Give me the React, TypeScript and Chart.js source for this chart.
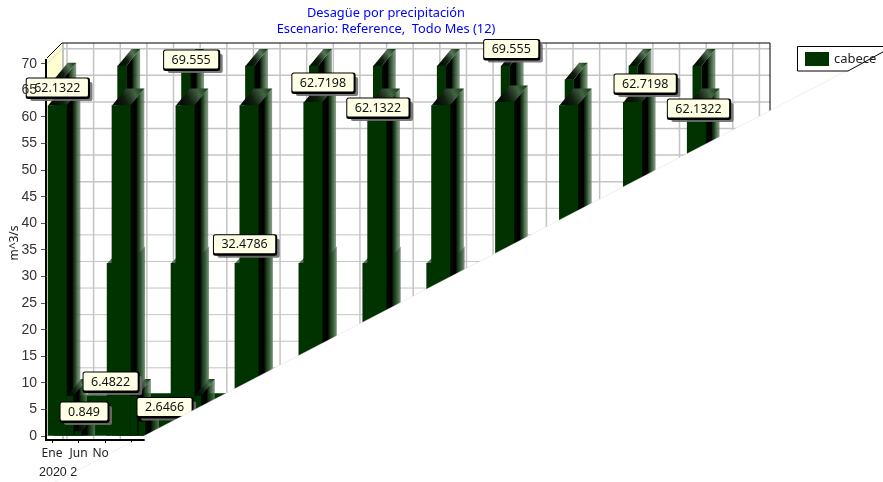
import React, { useEffect, useRef } from "react";
import { Chart, registerables } from "chart.js";

Chart.register(...registerables);

const titleLines = ["Desagüe por precipitación", "Escenario: Reference,  Todo Mes (12)"];
const seriesName = "cabece";
const yAxisTitle = "m^3/s";
const yearLabel = "2020 2";
const monthTickLabels: Record<number, string> = { 0: "Ene", 5: "Jun", 10: "No   " };

// yearly groups of bars, one value per year (2020 ... 2030); null = nothing to see
const frontValues = [null, 32.4786, 32.4786, 32.4786, 32.4786, 32.4786, 32.4786, 32.4786, 32.4786, 32.4786, 32.4786];
const middleValues = [62.1322, 62.1322, 62.1322, 62.1322, 62.7198, 62.1322, 62.1322, 62.7198, 62.1322, 62.7198, 62.1322];
const backValues = [67, 69.555, 69.555, 69.555, 69.555, 69.555, 69.555, 69.555, 67, 69.555, 69.555];
// low season months
const lowMonths = [8.07, 20.07, 32.07];
const lowValues = [7.6, 8, 8];
const shoulderMonths = [3.38, 15.38, 27.38];
const shoulderValues = [7.5, 7.5, 7.5];
const dryMonths = [4.9, 16.9];
const dryValues = [0.849, 2.6466];

const calloutMonths = [1, 25, 37, 49, 61, 85, 109, 121, 8, 5, 17];
const calloutValues = [62.1322, 69.555, 32.4786, 62.7198, 62.1322, 69.555, 62.7198, 62.1322, 6.4822, 0.849, 2.6466];
const calloutOffsets = [
  [0, -18], [6, -6.5], [-4.5, -19], [10, -20], [1, 2], [6.5, -17], [12.6, -19], [2, 3], [16, -20], [5.4, -20], [22, -15],
];

const GREEN = "#003300";
const FONT = '"Noto Sans", sans-serif';
const WALL_DX = 15;
const WALL_DY = -15;
const BAR_DX = 14;
const BAR_DY = -17;

const yearly = (offset: number, values: (number | null)[]) =>
  values.map((y, i) => ({ x: 12 * i + offset, y })).filter((d) => d.y !== null);
const pairs = (xs: number[], ys: number[]) => xs.map((x, i) => ({ x, y: ys[i] }));

const cutY = (x: number) => 388.5 - 0.5195 * (x - 235);

const wallPlugin = {
  id: "wall3d",
  beforeDatasetsDraw(chart: any) {
    const { ctx, scales, chartArea } = chart;
    const { x, y } = scales;
    const left = chartArea.left;
    const right = chartArea.right;
    const wallTop = 43;
    ctx.save();
    // left side wall
    ctx.fillStyle = "#ffffd2";
    ctx.beginPath();
    ctx.moveTo(left + 1, chartArea.top - 2);
    ctx.lineTo(left + 16, wallTop);
    ctx.lineTo(left + 16, chartArea.bottom - 16);
    ctx.lineTo(left + 1, chartArea.bottom);
    ctx.closePath();
    ctx.fill();
    // grid on the back wall
    y.ticks.forEach((t: any) => {
      const py = y.getPixelForValue(t.value);
      ctx.strokeStyle = "#d8d8c0";
      ctx.lineWidth = 1;
      ctx.beginPath();
      ctx.moveTo(left + 1, py);
      ctx.lineTo(left + 16, py + WALL_DY);
      ctx.stroke();
      ctx.strokeStyle = "#c4c4c4";
      ctx.lineWidth = py < 200 ? 1.5 : 1;
      ctx.beginPath();
      ctx.moveTo(left + 16, py + WALL_DY);
      ctx.lineTo(right + 16, py + WALL_DY);
      ctx.stroke();
    });
    ctx.strokeStyle = "#c4c4c4";
    ctx.lineWidth = 1.5;
    x.ticks.forEach((t: any) => {
      const px = x.getPixelForValue(t.value) + WALL_DX;
      ctx.beginPath();
      ctx.moveTo(px, wallTop);
      ctx.lineTo(px, chartArea.bottom);
      ctx.stroke();
    });
    ctx.beginPath();
    ctx.moveTo(left + 17, wallTop);
    ctx.lineTo(left + 17, chartArea.bottom);
    ctx.lineWidth = 2;
    ctx.stroke();
    // wall outline
    ctx.strokeStyle = "#000";
    ctx.lineWidth = 1;
    ctx.beginPath();
    ctx.moveTo(left + 1, chartArea.top - 2);
    ctx.lineTo(left + 16, wallTop);
    ctx.lineTo(right + 16, wallTop);
    ctx.lineTo(right + 16, chartArea.bottom);
    ctx.stroke();
    ctx.restore();
  },
};

const depthPlugin = {
  id: "barDepth",
  beforeDatasetDraw(chart: any, args: any) {
    const { ctx } = chart;
    const meta = args.meta;
    const kind = chart.data.datasets[args.index].depthKind;
    if (kind === "none") return;
    ctx.save();
    meta.data.forEach((bar: any) => {
      const props = bar.getProps(["x", "y", "base", "width"], true);
      const l = props.x - props.width / 2;
      const r = props.x + props.width / 2;
      const t = props.y;
      const b = props.base;
      const side = ctx.createLinearGradient(r, 0, r + BAR_DX, 0);
      side.addColorStop(0, "#000a00");
      side.addColorStop(0.42, "#000000");
      side.addColorStop(0.5, "rgba(10,35,10,0.95)");
      side.addColorStop(0.72, "rgba(40,75,40,0.85)");
      side.addColorStop(1, "rgba(100,130,100,0.75)");
      ctx.fillStyle = side;
      ctx.beginPath();
      ctx.moveTo(r, t);
      ctx.lineTo(r + BAR_DX, t + BAR_DY);
      ctx.lineTo(r + BAR_DX, b);
      ctx.lineTo(r, b);
      ctx.closePath();
      ctx.fill();
      if (kind === "notch") {
        ctx.fillStyle = "#5a645a";
        ctx.beginPath();
        ctx.moveTo(l, t);
        ctx.lineTo(l + 6, t - 6);
        ctx.lineTo(l + 6, t);
        ctx.closePath();
        ctx.fill();
        return;
      }
      const cap = ctx.createLinearGradient(l, t, r + BAR_DX, t + BAR_DY);
      cap.addColorStop(0, "#000000");
      cap.addColorStop(0.4, "#102010");
      cap.addColorStop(0.7, "rgba(70,100,70,0.9)");
      cap.addColorStop(1, "#003300");
      ctx.fillStyle = cap;
      ctx.beginPath();
      ctx.moveTo(l, t);
      ctx.lineTo(l + BAR_DX, t + BAR_DY);
      ctx.lineTo(r + BAR_DX, t + BAR_DY);
      ctx.lineTo(r, t);
      ctx.closePath();
      ctx.fill();
    });
    ctx.restore();
  },
};

const roundRect = (ctx: CanvasRenderingContext2D, x: number, y: number, w: number, h: number, r: number) => {
  ctx.beginPath();
  ctx.moveTo(x + r, y);
  ctx.arcTo(x + w, y, x + w, y + h, r);
  ctx.arcTo(x + w, y + h, x, y + h, r);
  ctx.arcTo(x, y + h, x, y, r);
  ctx.arcTo(x, y, x + w, y, r);
  ctx.closePath();
};

const overlayPlugin = {
  id: "overlay",
  afterDatasetsDraw(chart: any) {
    const { ctx, scales, width, height, chartArea } = chart;
    const { x, y } = scales;
    ctx.save();
    // callouts
    ctx.font = `12.5px ${FONT}`;
    ctx.textAlign = "center";
    ctx.textBaseline = "middle";
    calloutValues.forEach((v, i) => {
      const label = String(v);
      const cx = x.getPixelForValue(calloutMonths[i]) + calloutOffsets[i][0];
      const cy = y.getPixelForValue(v) + calloutOffsets[i][1];
      const w = ctx.measureText(label).width + 16;
      const h = 19;
      const bx = cx - w / 2;
      const by = cy - h / 2;
      ctx.fillStyle = "rgba(110,110,110,0.9)";
      roundRect(ctx, bx + 4, by + 4, w, h, 2);
      ctx.fill();
      ctx.fillStyle = "#000";
      roundRect(ctx, bx - 0.5, by - 0.5, w + 2, h + 2.5, 2.5);
      ctx.fill();
      ctx.fillStyle = "#ffffe6";
      roundRect(ctx, bx + 0.5, by + 0.5, w - 1, h - 1, 1.5);
      ctx.fill();
      ctx.fillStyle = "#111";
      ctx.fillText(label, cx, cy + 0.5);
    });

    // the diagonal that hides the lower right part of the picture
    // (only right of the axis labels, which stay readable)
    ctx.fillStyle = "#fff";
    ctx.beginPath();
    ctx.moveTo(108, cutY(108));
    ctx.lineTo(width, cutY(width));
    ctx.lineTo(width, height);
    ctx.lineTo(108, height);
    ctx.closePath();
    ctx.fill();
    ctx.strokeStyle = "rgba(190,190,190,0.25)";
    ctx.lineWidth = 1;
    ctx.beginPath();
    ctx.moveTo(52, cutY(52));
    ctx.lineTo(848, cutY(848));
    ctx.stroke();

    // the visible stretch of the month axis, which stays on top of the cut
    ctx.strokeStyle = "#000";
    ctx.lineWidth = 2;
    ctx.beginPath();
    ctx.moveTo(chartArea.left, chartArea.bottom);
    ctx.lineTo(x.getPixelForValue(17.4), chartArea.bottom);
    ctx.stroke();

    // year label under the axis
    ctx.textAlign = "left";
    ctx.fillStyle = "#222";
    ctx.font = '12.5px "Liberation Sans Narrow", "Liberation Sans", sans-serif';
    ctx.fillText(yearLabel, 39, 473);

    // legend
    ctx.strokeStyle = "#000";
    ctx.lineWidth = 1;
    ctx.beginPath();
    ctx.moveTo(width + 1, 46.5);
    ctx.lineTo(797.5, 46.5);
    ctx.lineTo(797.5, 71);
    ctx.lineTo(848, 71);
    ctx.lineTo(width + 1, cutY(width + 1));
    ctx.stroke();
    ctx.fillStyle = GREEN;
    ctx.fillRect(805, 52, 24, 14);
    ctx.fillStyle = "#222";
    ctx.font = `13px ${FONT}`;
    ctx.fillText(seriesName, 834, 59.5);

    // titles
    ctx.fillStyle = "#0000ff";
    ctx.textAlign = "center";
    ctx.font = `12.8px ${FONT}`;
    ctx.fillText(titleLines[0], 386, 13.5);
    ctx.fillText(titleLines[1], 386, 29.5);

    // axis title
    ctx.translate(15, 243);
    ctx.rotate(-Math.PI / 2);
    ctx.fillStyle = "#222";
    ctx.font = `12px ${FONT}`;
    ctx.fillText(yAxisTitle, 0, 0);
    ctx.restore();
  },
};

export default function App() {
  const ref = useRef<HTMLCanvasElement>(null);
  useEffect(() => {
    document.body.style.margin = "0";
    document.body.style.overflow = "hidden";
    const bar = (data: any[], thickness: number, order: number, depthKind: string) => ({
      label: seriesName,
      data,
      backgroundColor: GREEN,
      borderWidth: 0,
      barThickness: thickness,
      grouped: false,
      order,
      depthKind,
    });
    const chart = new Chart(ref.current!, {
      type: "bar",
      data: {
        datasets: [
          bar(pairs(dryMonths, dryValues), 6, 0, "full"),
          bar(pairs(shoulderMonths, shoulderValues), 6, 0.5, "full"),
          bar(yearly(0.98, middleValues), 18.3, 1, "full"),
          bar(yearly(1.12, backValues), 8.5, 2, "full"),
          bar(yearly(0.6, frontValues), 24, 3, "notch"),
          bar(pairs(lowMonths, lowValues), 30, 5, "none"),
        ],
      },
      options: {
        animation: false,
        responsive: false,
        events: [],
        layout: { padding: { left: 0, top: 60, right: 129, bottom: 0 } },
        plugins: { legend: { display: false }, title: { display: false }, tooltip: { enabled: false } },
        scales: {
          x: {
            type: "linear",
            offset: false,
            min: -1.127,
            max: 131.8,
            grid: { offset: false, drawOnChartArea: false, drawTicks: true, tickLength: 3, color: "#000" },
            border: { color: "#000", width: 2 },
            ticks: {
              stepSize: 5,
              autoSkip: false,
              maxRotation: 0,
              padding: 3,
              includeBounds: false,
              color: "#222",
              font: { family: "Noto Sans", size: 12 },
              callback: (v: any) => monthTickLabels[v] ?? "",
            },
            afterFit: (s: any) => {
              s.height = 42;
            },
          },
          y: {
            min: -0.75,
            max: 70.7,
            grid: { drawOnChartArea: false, drawTicks: true, tickLength: 5, color: "#555" },
            border: { color: "#000", width: 3 },
            ticks: {
              z: 1,
              stepSize: 5,
              includeBounds: false,
              padding: 4,
              color: "#333",
              font: { family: "Liberation Sans", size: 14 },
            },
            afterFit: (s: any) => {
              s.width = 46;
            },
          },
        },
      },
      plugins: [wallPlugin, depthPlugin, overlayPlugin],
    } as any);
    return () => chart.destroy();
  }, []);
  return (
    <div style={{ position: "fixed", left: 0, top: 0, width: 883, height: 482, background: "#fff" }}>
      <canvas ref={ref} width={883} height={482} style={{ display: "block" }} />
    </div>
  );
}
